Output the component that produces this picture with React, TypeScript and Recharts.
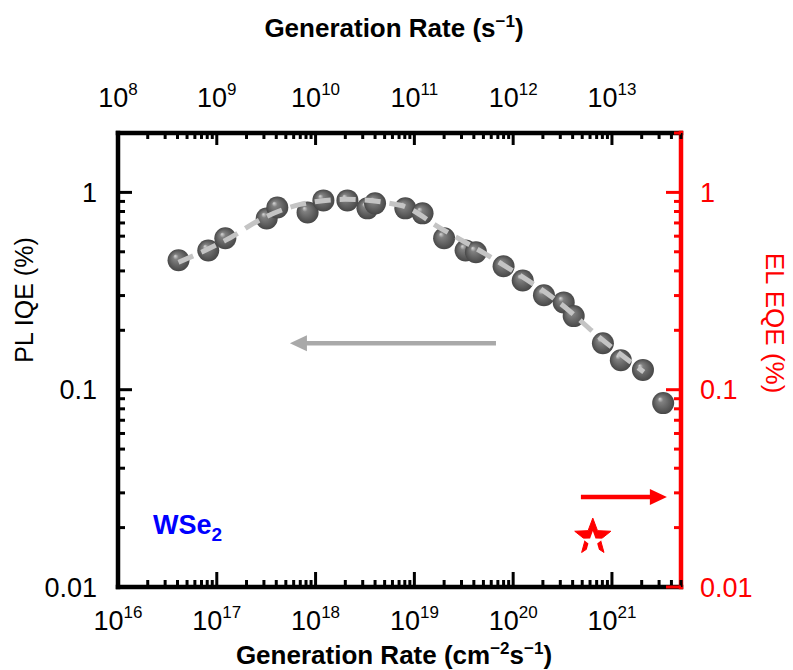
import React from "react";
import {
  ComposedChart,
  XAxis,
  YAxis,
  Scatter,
  Line,
  ReferenceLine,
  Customized,
} from "recharts";

// PL internal quantum efficiency vs. generation rate (WSe2)
const genRate = [
  4.1e16, 8.2e16, 1.22e17, 3.2e17, 4.1e17, 8.3e17, 1.2e18, 2.1e18, 3.35e18,
  4.0e18, 8.1e18, 1.21e19, 2.0e19, 3.3e19, 4.2e19, 8.0e19, 1.25e20, 2.05e20,
  3.25e20, 4.1e20, 8.1e20, 1.23e21, 2.06e21, 3.3e21,
];
const plIqe = [
  0.453, 0.508, 0.585, 0.738, 0.839, 0.792, 0.911, 0.911, 0.83, 0.88, 0.83,
  0.783, 0.585, 0.508, 0.497, 0.422, 0.358, 0.301, 0.277, 0.236, 0.172, 0.141,
  0.126, 0.0855,
];

// dashed guide curve
const fitRate = [4.1e16, 1.22e17, 3.2e17, 7e17, 2e18, 7.2e18, 1.85e19, 7.5e19, 3.0e20, 7.7e20, 2.1e21];
const fitIqe = [0.442, 0.571, 0.756, 0.869, 0.922, 0.86, 0.657, 0.437, 0.274, 0.182, 0.123];

// EL point (right axis)
const elRate = [6.4e20];
const elEqe = [0.0179];

// axis arrows
const plArrowRate = [6.7e19, 5.5e17];
const plArrowIqe = 0.172;
const elArrowRate = [4.85e20, 3.6e21];
const elArrowEqe = 0.0286;

// axes
const bottomDecades = [16, 17, 18, 19, 20, 21];
const topDecades = [8, 9, 10, 11, 12, 13];
const areaFactor = 1e8; // top axis = bottom axis / area (cm^2 -> s^-1)
const yMajors = [0.01, 0.1, 1];
const yLabels = ["0.01", "0.1", "1"];
const xMax = 5e21;
const yMax = 2;

const FONT = "'Liberation Sans', Arial, sans-serif";

const plData = genRate.map((x, i) => ({ x, y: plIqe[i] }));
const plTopData = genRate.map((x, i) => ({ x: x / areaFactor, y: plIqe[i] }));
const fitData = fitRate.map((x, i) => ({ x, y: fitIqe[i] }));
const elData = elRate.map((x, i) => ({ x, y: elEqe[i] }));

const logTicks = (decades: number[], max: number) => {
  const out: number[] = [];
  decades.forEach((d) => {
    for (let k = 1; k <= 9; k++) {
      const v = k * Math.pow(10, d);
      if (v <= max * 1.0001) out.push(v);
    }
  });
  return out;
};
const bottomTicks = logTicks(bottomDecades, xMax);
const topTicks = logTicks(topDecades, xMax / areaFactor);
const yTicks = logTicks([-2, -1, 0], yMax);

const isMajor = (v: number) => Math.abs(Math.log10(v) - Math.round(Math.log10(v))) < 1e-6;

const BottomTick = (props: any) => {
  const { x, y, payload } = props;
  const major = isMajor(payload.value);
  return (
    <g>
      <line x1={x} x2={x} y1={y} y2={y - (major ? 15 : 7)} stroke="#000" strokeWidth={3} />
      {major && (
        <text x={x} y={y + 43} textAnchor="middle" fontSize={27} fontFamily={FONT} fill="#000">
          10<tspan dy={-12} fontSize={17}>{Math.round(Math.log10(payload.value))}</tspan>
        </text>
      )}
    </g>
  );
};

const TopTick = (props: any) => {
  const { x, y, payload } = props;
  const major = isMajor(payload.value);
  return (
    <g>
      <line x1={x} x2={x} y1={y} y2={y + (major ? 12 : 6)} stroke="#000" strokeWidth={3} />
      {major && (
        <text x={x} y={y - 26} textAnchor="middle" fontSize={27} fontFamily={FONT} fill="#000">
          10<tspan dy={-12} fontSize={17}>{Math.round(Math.log10(payload.value))}</tspan>
        </text>
      )}
    </g>
  );
};

const LeftTick = (props: any) => {
  const { x, y, payload } = props;
  const idx = yMajors.findIndex((m) => Math.abs(m - payload.value) < 1e-9);
  const major = idx >= 0;
  return (
    <g>
      <line x1={x} x2={x + (major ? 14 : 7)} y1={y} y2={y} stroke="#000" strokeWidth={3} />
      {major && (
        <text x={x - 21} y={y} dy="0.36em" textAnchor="end" fontSize={27} fontFamily={FONT} fill="#000">
          {yLabels[idx]}
        </text>
      )}
    </g>
  );
};

const RightTick = (props: any) => {
  const { x, y, payload } = props;
  const idx = yMajors.findIndex((m) => Math.abs(m - payload.value) < 1e-9);
  const major = idx >= 0;
  return (
    <g>
      <line x1={x} x2={x - (major ? 15 : 7)} y1={y} y2={y} stroke="#ff0000" strokeWidth={3} />
      {major && (
        <text x={x + 19} y={y} dy="0.36em" textAnchor="start" fontSize={27} fontFamily={FONT} fill="#ff0000">
          {yLabels[idx]}
        </text>
      )}
    </g>
  );
};

const Ball = (props: any) => {
  const { cx, cy } = props;
  if (cx == null || cy == null) return <g />;
  return <circle cx={cx} cy={cy} r={11} fill="url(#ball)" />;
};

const Nothing = () => <g />;

const starPoints = (cx: number, cy: number, R: number, r: number) => {
  const pts: string[] = [];
  for (let i = 0; i < 10; i++) {
    const rad = i % 2 === 0 ? R : r;
    const a = -Math.PI / 2 + (i * Math.PI) / 5;
    pts.push(`${cx + rad * Math.cos(a)},${cy + rad * Math.sin(a)}`);
  }
  return pts.join(" ");
};

const Star = (props: any) => {
  const { cx, cy } = props;
  if (cx == null || cy == null) return <g />;
  return (
    <g>
      <polygon points={starPoints(cx, cy, 19, 8)} fill="#ff0000" stroke="#ff0000" strokeWidth={1} />
      <polygon points={starPoints(cx, cy + 5, 11, 4.6)} fill="#ffffff" />
    </g>
  );
};

const arrowShape = (color: string) => (p: any) => {
  const { x1, y1, x2, y2 } = p;
  const dir = Math.sign(x2 - x1) || 1;
  const head = 17;
  const half = 8;
  return (
    <g>
      <line x1={x1} y1={y1} x2={x2 - dir * head + dir} y2={y2} stroke={color} strokeWidth={4.5} />
      <polygon
        points={`${x2},${y2} ${x2 - dir * head},${y2 - half} ${x2 - dir * head},${y2 + half}`}
        fill={color}
      />
    </g>
  );
};

const TopTitle = () => (
  <text x={394} y={37} textAnchor="middle" fontSize={26} fontWeight="bold" fontFamily={FONT} fill="#000">
    Generation Rate (s<tspan dy={-10} fontSize={17}>−1</tspan>
    <tspan dy={10}>)</tspan>
  </text>
);

const BottomTitle = () => (
  <text x={394} y={664} textAnchor="middle" fontSize={26} fontWeight="bold" fontFamily={FONT} fill="#000">
    Generation Rate (cm<tspan dy={-10} fontSize={17}>−2</tspan>
    <tspan dy={10}>s</tspan>
    <tspan dy={-10} fontSize={17}>−1</tspan>
    <tspan dy={10}>)</tspan>
  </text>
);

const LeftTitle = () => (
  <text
    x={0}
    y={0}
    transform="translate(33, 300) rotate(-90)"
    textAnchor="middle"
    fontSize={25}
    fontFamily={FONT}
    fill="#000"
  >
    PL IQE (%)
  </text>
);

const RightTitle = () => (
  <text
    x={0}
    y={0}
    transform="translate(766, 323) rotate(90)"
    textAnchor="middle"
    fontSize={26}
    fontFamily={FONT}
    fill="#ff0000"
  >
    EL EQE (%)
  </text>
);

const Material = () => (
  <text x={153} y={534} fontSize={27} fontWeight="bold" fontFamily={FONT} fill="#0000ff">
    WSe<tspan dy={7} fontSize={19}>2</tspan>
  </text>
);

export default function App() {
  return (
    <div style={{ position: "absolute", left: 0, top: 0, width: 793, height: 670, background: "#fff" }}>
      <svg width={0} height={0} style={{ position: "absolute" }}>
        <defs>
          <radialGradient id="ball" cx="50%" cy="50%" r="50%" fx="34%" fy="30%">
            <stop offset="0%" stopColor="#d9d9d9" />
            <stop offset="25%" stopColor="#808080" />
            <stop offset="70%" stopColor="#5e5e5e" />
            <stop offset="100%" stopColor="#474747" />
          </radialGradient>
        </defs>
      </svg>
      <ComposedChart width={793} height={670} margin={{ top: 0, right: 0, bottom: 0, left: 0 }}>
        <XAxis
          xAxisId="top"
          orientation="top"
          dataKey="x"
          type="number"
          scale="log"
          domain={[1e8, xMax / areaFactor]}
          allowDataOverflow
          ticks={topTicks}
          interval={0}
          height={133}
          tickSize={0}
          tickMargin={0}
          tickLine={false}
          tick={<TopTick />}
          axisLine={{ stroke: "#000", strokeWidth: 4.5, strokeLinecap: "square" }}
          label={TopTitle}
        />
        <XAxis
          xAxisId="bottom"
          dataKey="x"
          type="number"
          scale="log"
          domain={[1e16, xMax]}
          allowDataOverflow
          ticks={bottomTicks}
          interval={0}
          height={83}
          tickSize={0}
          tickMargin={0}
          tickLine={false}
          tick={<BottomTick />}
          axisLine={{ stroke: "#000", strokeWidth: 4.5, strokeLinecap: "square" }}
          label={BottomTitle}
        />
        <YAxis
          yAxisId="left"
          dataKey="y"
          type="number"
          scale="log"
          domain={[0.01, yMax]}
          allowDataOverflow
          ticks={yTicks}
          interval={0}
          width={118}
          tickSize={0}
          tickMargin={0}
          tickLine={false}
          tick={<LeftTick />}
          axisLine={{ stroke: "#000", strokeWidth: 4.5, strokeLinecap: "square" }}
          label={LeftTitle}
        />
        <YAxis
          yAxisId="right"
          orientation="right"
          dataKey="y"
          type="number"
          scale="log"
          domain={[0.01, yMax]}
          allowDataOverflow
          ticks={yTicks}
          interval={0}
          width={112}
          tickSize={0}
          tickMargin={0}
          tickLine={false}
          tick={<RightTick />}
          axisLine={{ stroke: "#ff0000", strokeWidth: 4.5, strokeLinecap: "square" }}
          label={RightTitle}
        />

        {/* invisible copy on the top (s^-1) axis so it gets a scale */}
        <Scatter
          xAxisId="top"
          yAxisId="left"
          data={plTopData}
          dataKey="y"
          shape={<Nothing />}
          isAnimationActive={false}
        />

        <ReferenceLine
          xAxisId="bottom"
          yAxisId="left"
          segment={[
            { x: plArrowRate[0], y: plArrowIqe },
            { x: plArrowRate[1], y: plArrowIqe },
          ]}
          shape={arrowShape("#a9a9a9")}
        />
        <ReferenceLine
          xAxisId="bottom"
          yAxisId="right"
          segment={[
            { x: elArrowRate[0], y: elArrowEqe },
            { x: elArrowRate[1], y: elArrowEqe },
          ]}
          shape={arrowShape("#ff0000")}
        />

        <Scatter
          xAxisId="bottom"
          yAxisId="left"
          data={plData}
          dataKey="y"
          shape={<Ball />}
          isAnimationActive={false}
        />
        <Line
          xAxisId="bottom"
          yAxisId="left"
          data={fitData}
          dataKey="y"
          type="monotone"
          stroke="#c4c4c4"
          strokeWidth={5}
          strokeDasharray="16 9"
          dot={false}
          activeDot={false}
          isAnimationActive={false}
          zIndex={700}
        />
        <Scatter
          xAxisId="bottom"
          yAxisId="right"
          data={elData}
          dataKey="y"
          shape={<Star />}
          isAnimationActive={false}
        />
        <Customized component={Material} />
      </ComposedChart>
    </div>
  );
}
